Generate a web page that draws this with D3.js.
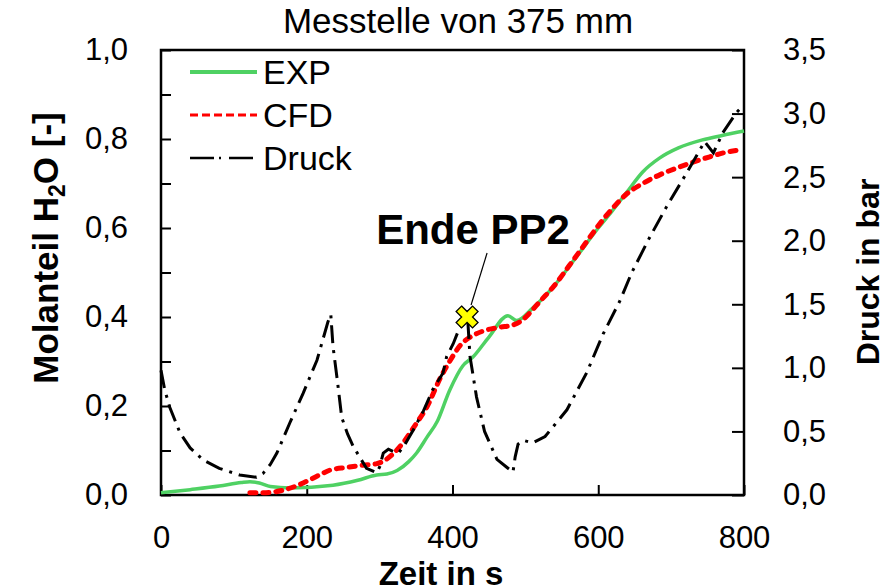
<!DOCTYPE html>
<html>
<head>
<meta charset="utf-8">
<script src="https://cdn.jsdelivr.net/npm/d3@7"></script>
<style>
  body { margin: 0; background: #fff; }
  text { font-family: "Liberation Sans", Arial, sans-serif; fill: #000; }
</style>
</head>
<body>
<script>
// Zeit in s / Molanteil H2O [-]
var expT = [0,40,80,110,122,135,150,177,236,270,296,310,324,340,351,365,379,396,414,428,450,476,488,510,538,570,600,620,639,661,684,710,743,770,800];
var expV = [0.005,0.012,0.02,0.028,0.03,0.027,0.019,0.016,0.022,0.033,0.045,0.047,0.055,0.075,0.095,0.13,0.165,0.235,0.29,0.31,0.355,0.403,0.392,0.42,0.467,0.535,0.6,0.64,0.68,0.726,0.757,0.78,0.798,0.808,0.818];

var cfdT = [122,140,168,185,204,220,232,255,277,295,305,320,332,350,365,383,396,410,430,447,465,483,495,506,520,538,560,580,600,620,640,661,685,708,730,753,775,792];
var cfdV = [0.005,0.005,0.011,0.02,0.034,0.047,0.056,0.062,0.067,0.07,0.076,0.095,0.117,0.16,0.198,0.262,0.3,0.335,0.36,0.371,0.377,0.382,0.392,0.409,0.435,0.467,0.515,0.56,0.605,0.645,0.678,0.7,0.72,0.735,0.748,0.76,0.77,0.775];

// Druck in bar
var druckT = [0,5,12,26,40,58,80,108,131,140,150,159,177,195,214,229,233,236,242,248,256,264,282,296,300,305,312,320,326,335,346,360,373,387,392,401,410,421,424,433,444,461,474,483,486,490,497,510,527,540,557,584,607,630,646,670,694,721,739,746,758,771,790,800];
var druckP = [0.98,0.83,0.69,0.49,0.37,0.275,0.21,0.157,0.14,0.17,0.24,0.33,0.57,0.8,1.06,1.36,1.42,1.17,0.9,0.61,0.48,0.38,0.21,0.175,0.22,0.33,0.36,0.34,0.33,0.4,0.51,0.66,0.83,0.96,1.09,1.19,1.32,1.37,1.09,0.77,0.5,0.28,0.22,0.18,0.3,0.4,0.43,0.41,0.46,0.55,0.67,0.96,1.27,1.53,1.75,2.02,2.27,2.53,2.71,2.78,2.69,2.85,3.01,3.07];

var xTicks = [0,200,400,600,800];
var yTicks = [0,0.1,0.2,0.3,0.4,0.5,0.6,0.7,0.8,0.9,1.0];
var y2Ticks = [0,0.5,1,1.5,2,2.5,3,3.5];

var legendNames = ["EXP","CFD","Druck"];
var annotT = [420], annotV = [0.40], annotLabel = ["Ende PP2"];

var width = 894, height = 588;
var margin = {left: 161, right: 150, top: 50, bottom: 93};
var w = width - margin.left - margin.right;
var h = height - margin.top - margin.bottom;

var de = d3.formatLocale({decimal: ",", thousands: ".", grouping: [3], currency: ["", "€"]});
var f1 = de.format(".1f");

var x = d3.scaleLinear().domain([0,800]).range([0,w]);
var y = d3.scaleLinear().domain([0,1]).range([h,0]);
var y2 = d3.scaleLinear().domain([0,3.5]).range([h,0]);

var svg = d3.select("body").append("svg").attr("width", width).attr("height", height);
var g = svg.append("g").attr("transform","translate("+margin.left+","+margin.top+")");

var xAxis = d3.axisBottom(x).tickValues(xTicks).tickSizeInner(-10).tickSizeOuter(0).tickPadding(31);
var yAxis = d3.axisLeft(y).tickValues(yTicks).tickSizeInner(-10).tickSizeOuter(0).tickPadding(33)
    .tickFormat(function(d,i){ return i % 2 == 0 ? f1(d) : ""; });
var y2Axis = d3.axisRight(y2).tickValues(y2Ticks).tickSizeInner(-12).tickSizeOuter(0).tickPadding(39).tickFormat(f1);

[g.append("g").attr("transform","translate(0,"+h+")").call(xAxis),
 g.append("g").call(yAxis),
 g.append("g").attr("transform","translate("+w+",0)").call(y2Axis)].forEach(function(a){
    a.select(".domain").remove();
    a.selectAll("line").attr("stroke","#000").attr("stroke-width",2);
    a.selectAll("text").style("font-size","31px").style("font-family","'Liberation Sans', Arial, sans-serif");
});

g.append("rect").attr("width", w).attr("height", h)
  .attr("fill","none").attr("stroke","#000").attr("stroke-width",2.5);

var lineL = d3.line().x(function(d){return x(d[0]);}).y(function(d){return y(d[1]);}).curve(d3.curveMonotoneX);
var lineR = d3.line().x(function(d){return x(d[0]);}).y(function(d){return y2(d[1]);});

g.append("path").attr("d", lineL(d3.zip(expT, expV)))
  .attr("fill","none").attr("stroke","#4fd163").attr("stroke-width",3.5);
g.append("path").attr("d", lineL(d3.zip(cfdT, cfdV)))
  .attr("fill","none").attr("stroke","#ff0000").attr("stroke-width",5)
  .attr("stroke-dasharray","6,7").attr("stroke-linecap","round");
g.append("path").attr("d", lineR(d3.zip(druckT, druckP)))
  .attr("fill","none").attr("stroke","#000").attr("stroke-width",3)
  .attr("stroke-dasharray","18,7,3,7");

// annotation
g.append("line")
  .attr("x1", x(annotT[0]) + 4).attr("y1", y(annotV[0]) - 12)
  .attr("x2", x(annotT[0]) + 20).attr("y2", y(annotV[0]) - 64)
  .attr("stroke","#000").attr("stroke-width",1.2);
g.append("path").attr("d", d3.symbol().type(d3.symbolCross).size(300)())
  .attr("transform","translate("+x(annotT[0])+","+y(annotV[0])+") rotate(45)")
  .attr("fill","#ffff00").attr("stroke","#000").attr("stroke-width",1.3);
g.append("text").attr("x", x(annotT[0]) + 6).attr("y", y(annotV[0]) - 73)
  .attr("text-anchor","middle").style("font-size","42px").style("font-weight","bold")
  .text(annotLabel[0]);

// legend
var leg = g.append("g").attr("transform","translate(29,22)");
var legStyle = [
  {stroke:"#4fd163", sw:4, dash:null},
  {stroke:"#ff0000", sw:3, dash:"8,4"},
  {stroke:"#000", sw:2.5, dash:"24,5,2,8"}
];
legendNames.forEach(function(n,i){
  var row = leg.append("g").attr("transform","translate(0,"+(i*43)+")");
  row.append("line").attr("x1",0).attr("x2",67).attr("y1",0).attr("y2",0)
    .attr("stroke",legStyle[i].stroke).attr("stroke-width",legStyle[i].sw)
    .attr("stroke-dasharray",legStyle[i].dash);
  row.append("text").attr("x",73).attr("y",0).attr("dy","0.35em")
    .style("font-size","34px").text(n);
});

// titles
svg.append("text").attr("x", 458).attr("y", 33).attr("text-anchor","middle")
  .style("font-size","35px").text("Messtelle von 375 mm");
svg.append("text").attr("x", 441).attr("y", 585).attr("text-anchor","middle")
  .style("font-size","33px").style("font-weight","bold").text("Zeit in s");

var yt = svg.append("text").attr("transform","translate(58,248) rotate(-90)")
  .attr("text-anchor","middle").style("font-size","35px").style("font-weight","bold");
yt.append("tspan").text("Molanteil H");
yt.append("tspan").attr("dy","0.3em").style("font-size","23px").text("2");
yt.append("tspan").attr("dy","-0.2em").text("O [-]");

svg.append("text").attr("transform","translate(879,272) rotate(-90)")
  .attr("text-anchor","middle").style("font-size","32px").style("font-weight","bold")
  .text("Druck in bar");
</script>
</body>
</html>
